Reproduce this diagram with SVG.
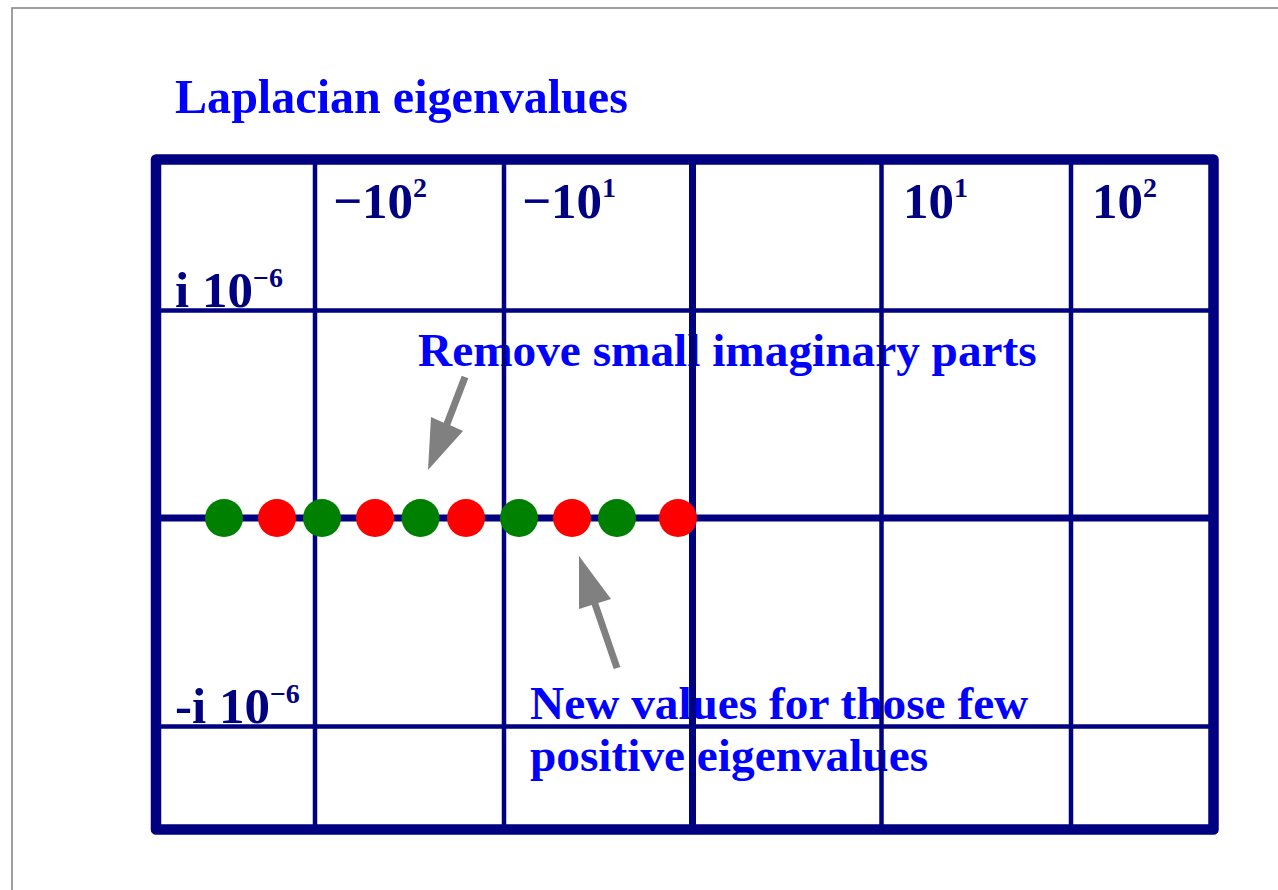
<svg xmlns="http://www.w3.org/2000/svg" width="1278" height="890" viewBox="0 0 1278 890">
<style>
.lbl{font-family:"Liberation Serif","Times New Roman",serif;font-weight:bold;fill:#0000ff;font-size:47.3px}
.ax{font-family:"Liberation Serif","Times New Roman",serif;font-weight:bold;fill:#000080;font-size:51px}
.sup{font-size:28px}
.thin{stroke:#000080;stroke-width:4.5;fill:none}
.mid{stroke:#000080;stroke-width:7;fill:none}
.arrow{fill:#808080}
.g{fill:#008000}
.r{fill:#ff0000}
</style>
<rect x="12" y="8" width="1300" height="900" fill="#ffffff" stroke="#808080" stroke-width="1.5"/>
<g id="title"><text class="lbl" x="175" y="113" style="font-size:48.1px">Laplacian eigenvalues</text></g>
<g id="axis-labels">
<text class="ax" x="333" y="218">−10<tspan class="sup" dy="-21">2</tspan></text>
<text class="ax" x="522" y="218">−10<tspan class="sup" dy="-21">1</tspan></text>
<text class="ax" x="903" y="218">10<tspan class="sup" dy="-21">1</tspan></text>
<text class="ax" x="1092" y="218">10<tspan class="sup" dy="-21">2</tspan></text>
<text class="ax" x="175" y="307">i 10<tspan class="sup" dy="-20">−6</tspan></text>
<text class="ax" x="175" y="723">-i 10<tspan class="sup" dy="-20">−6</tspan></text>
</g>
<g id="note-remove"><text class="lbl" x="418" y="366">Remove small imaginary parts</text></g>
<g id="note-new">
<text class="lbl" x="530" y="719">New values for those few</text>
<text class="lbl" x="530" y="771">positive eigenvalues</text>
</g>
<g id="grid">
<line class="thin" x1="315" y1="159" x2="315" y2="829"/>
<line class="thin" x1="504" y1="159" x2="504" y2="829"/>
<line class="thin" x1="881.5" y1="159" x2="881.5" y2="829"/>
<line class="thin" x1="1071" y1="159" x2="1071" y2="829"/>
<line class="thin" x1="155" y1="310.5" x2="1214" y2="310.5"/>
<line class="thin" x1="155" y1="726.5" x2="1214" y2="726.5"/>
<line class="mid" x1="692.5" y1="159" x2="692.5" y2="829"/>
<line class="mid" x1="155" y1="518" x2="1214" y2="518"/>
<rect x="156" y="159.5" width="1057.5" height="670" fill="none" stroke="#000080" stroke-width="10.5" stroke-linejoin="round"/>
</g>
<g id="connectors">
<polygon class="arrow" points="461.7,375.75 468.3,378.25 450.3,425.25 463,431 428,470 431,417 443.7,422.75"/>
<polygon class="arrow" points="620.3,666.9 598.3,602.9 611,599 579,556 579,609 591.7,605.1 613.7,669.1"/>
</g>
<g id="eigenvalues">
<circle class="g" cx="224" cy="518" r="19"/>
<circle class="r" cx="277" cy="518" r="19"/>
<circle class="g" cx="322" cy="518" r="19"/>
<circle class="r" cx="375" cy="518" r="19"/>
<circle class="g" cx="420.5" cy="518" r="19"/>
<circle class="r" cx="466" cy="518" r="19"/>
<circle class="g" cx="519" cy="518" r="19"/>
<circle class="r" cx="572" cy="518" r="19"/>
<circle class="g" cx="617" cy="518" r="19"/>
<circle class="r" cx="678" cy="518" r="19"/>
</g>
</svg>
